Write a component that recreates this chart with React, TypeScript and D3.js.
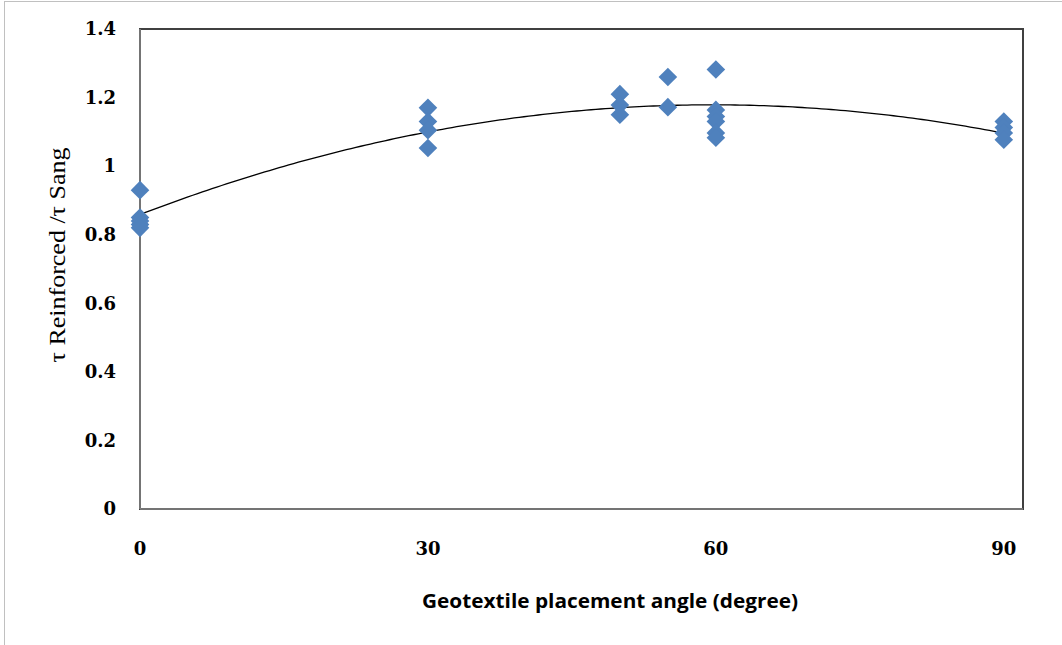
import React from "react";
import * as d3 from "d3";

const angle0 = [0, 0, 0, 0, 0];
const ratio0 = [0.93, 0.85, 0.84, 0.83, 0.82];
const angle30 = [30, 30, 30, 30];
const ratio30 = [1.17, 1.13, 1.105, 1.053];
const angle50 = [50, 50, 50];
const ratio50 = [1.21, 1.178, 1.15];
const angle55 = [55, 55];
const ratio55 = [1.26, 1.172];
const angle60 = [60, 60, 60, 60, 60, 60];
const ratio60 = [1.282, 1.164, 1.145, 1.13, 1.097, 1.083];
const angle90 = [90, 90, 90, 90];
const ratio90 = [1.13, 1.113, 1.097, 1.077];

const xTicks = [0, 30, 60, 90];
const yTicks = [0, 0.2, 0.4, 0.6, 0.8, 1, 1.2, 1.4];

const xTitle = "Geotextile placement angle (degree)";
const yTitle = "τ Reinforced /τ Sang";

const W = 1062;
const H = 645;
const L = 140, R = 1023, T = 29, B = 509;

function fitQuadratic(xs: number[], ys: number[]) {
  const n = xs.length;
  const s = [0, 0, 0, 0, 0];
  const t = [0, 0, 0];
  for (let i = 0; i < n; i++) {
    const x = xs[i], y = ys[i];
    let p = 1;
    for (let k = 0; k < 5; k++) { s[k] += p; if (k < 3) t[k] += p * y; p *= x; }
  }
  const M = [
    [s[0], s[1], s[2], t[0]],
    [s[1], s[2], s[3], t[1]],
    [s[2], s[3], s[4], t[2]],
  ];
  for (let i = 0; i < 3; i++) {
    for (let j = i + 1; j < 3; j++) {
      const f = M[j][i] / M[i][i];
      for (let k = i; k < 4; k++) M[j][k] -= f * M[i][k];
    }
  }
  const c = [0, 0, 0];
  for (let i = 2; i >= 0; i--) {
    let v = M[i][3];
    for (let k = i + 1; k < 3; k++) v -= M[i][k] * c[k];
    c[i] = v / M[i][i];
  }
  return c;
}

export default function App() {
  const xs = [...angle0, ...angle30, ...angle50, ...angle55, ...angle60, ...angle90];
  const ys = [...ratio0, ...ratio30, ...ratio50, ...ratio55, ...ratio60, ...ratio90];
  const x = d3.scaleLinear().domain([0, 92]).range([L, R]);
  const y = d3.scaleLinear().domain([0, 1.4]).range([B, T]);
  const coef = fitQuadratic(xs, ys);
  const curveX = d3.range(0, 90.01, 0.5);
  const line = d3
    .line<number>()
    .x((d) => x(d))
    .y((d) => y(coef[0] + coef[1] * d + coef[2] * d * d));
  const r = 9.3;
  const tickFont = "'DejaVu Serif', serif";
  return (
    <svg
      width={W}
      height={H}
      style={{ position: "absolute", left: 0, top: 0, background: "#fff" }}
    >
      <rect x={4.5} y={1.5} width={W + 10} height={H + 10} fill="#fff" stroke="#c0c0c0" strokeWidth={1} />
      <rect x={L} y={T} width={R - L} height={B - T} fill="none" stroke="#404040" strokeWidth={2} />
      <line x1={L} y1={T} x2={L} y2={B} stroke="#868686" strokeWidth={1.5} />
      <line x1={L} y1={B} x2={R} y2={B} stroke="#868686" strokeWidth={1.5} />
      {yTicks.map((t) => (
        <text
          key={"y" + t}
          x={116}
          y={y(t)}
          dy="0.35em"
          textAnchor="end"
          fontFamily={tickFont}
          fontWeight="bold"
          fontSize={18}
          fill="#000"
        >
          {t}
        </text>
      ))}
      {xTicks.map((t) => (
        <text
          key={"x" + t}
          x={x(t)}
          y={549}
          dy="0.35em"
          textAnchor="middle"
          fontFamily={tickFont}
          fontWeight="bold"
          fontSize={18}
          fill="#000"
        >
          {t}
        </text>
      ))}
      <path d={line(curveX) || ""} fill="none" stroke="#000" strokeWidth={1.3} />
      {xs.map((v, i) => {
        const cx = x(v), cy = y(ys[i]);
        return (
          <path
            key={"p" + i}
            d={`M${cx},${cy - r}L${cx + r},${cy}L${cx},${cy + r}L${cx - r},${cy}Z`}
            fill="#4F81BD"
          />
        );
      })}
      <text
        x={(422 + 798) / 2}
        y={601}
        dy="0.35em"
        textAnchor="middle"
        fontFamily="'Open Sans', sans-serif"
        fontWeight="bold"
        fontSize={20}
        textLength={376}
        lengthAdjust="spacingAndGlyphs"
        fill="#000"
      >
        {xTitle}
      </text>
      <text
        transform={`translate(57,${255}) rotate(-90)`}
        dy="0.35em"
        textAnchor="middle"
        fontFamily="'Liberation Serif', serif"
        fontSize={23}
        textLength={215}
        lengthAdjust="spacingAndGlyphs"
        fill="#000"
      >
        {yTitle}
      </text>
    </svg>
  );
}
